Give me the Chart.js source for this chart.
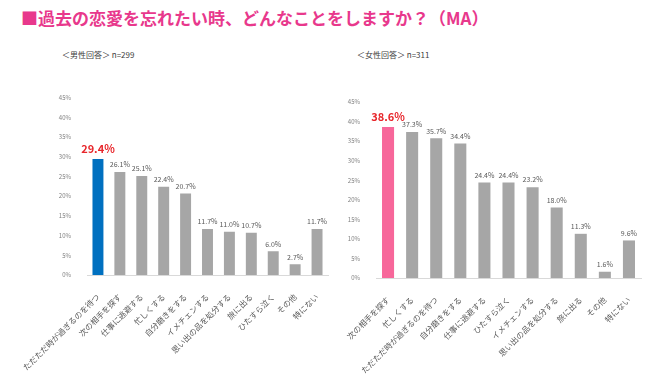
<!DOCTYPE html>
<html>
<head>
<meta charset="utf-8">
<script src="https://cdn.jsdelivr.net/npm/chart.js@4"></script>
<style>
  body { margin: 0; background: #fff; width: 660px; height: 375px; position: relative; overflow: hidden; font-family: "Noto Sans CJK JP", sans-serif; }
  #title { position: absolute; left: 21px; top: 5px; font-size: 17px; font-weight: bold; color: #e8388c; white-space: nowrap; letter-spacing: 0px; }
  .sub { position: absolute; top: 49px; font-size: 8px; color: #404040; white-space: nowrap; }
  #wrapM { position: absolute; left: 0; top: 86px; width: 335px; height: 289px; }
  #wrapF { position: absolute; left: 330px; top: 86px; width: 330px; height: 289px; }
</style>
</head>
<body>
<div id="title">■過去の恋愛を忘れたい時、どんなことをしますか？（MA）</div>
<div class="sub" style="left:62px">＜男性回答＞ n=299</div>
<div class="sub" style="left:357px">＜女性回答＞ n=311</div>
<div id="wrapM"><canvas id="maleC"></canvas></div>
<div id="wrapF"><canvas id="femaleC"></canvas></div>
<script>
const maleLabels = ['ただただ時が過ぎるのを待つ', '次の相手を探す', '仕事に逃避する', '忙しくする',
                    '自分磨きをする', 'イメチェンする', '思い出の品を処分する', '旅に出る',
                    'ひたすら泣く', 'その他', '特にない'];
const maleValues = [29.4, 26.1, 25.1, 22.4, 20.7, 11.7, 11.0, 10.7, 6.0, 2.7, 11.7];

const femaleLabels = ['次の相手を探す', '忙しくする', 'ただただ時が過ぎるのを待つ', '自分磨きをする',
                      '仕事に逃避する', 'ひたすら泣く', 'イメチェンする', '思い出の品を処分する',
                      '旅に出る', 'その他', '特にない'];
const femaleValues = [38.6, 37.3, 35.7, 34.4, 24.4, 24.4, 23.2, 18.0, 11.3, 1.6, 9.6];

const FONT = '"Noto Sans CJK JP", sans-serif';

// value labels above each bar, first one highlighted in red
const valueLabels = {
    id: 'valueLabels',
    afterDatasetsDraw(chart) {
        const ctx = chart.ctx;
        const meta = chart.getDatasetMeta(0);
        const data = chart.data.datasets[0].data;
        meta.data.forEach((bar, i) => {
            const first = i === 0;
            ctx.save();
            ctx.textAlign = 'center';
            ctx.textBaseline = 'bottom';
            ctx.fillStyle = first ? '#e8262b' : '#595959';
            ctx.font = first ? 'bold 11px ' + FONT : '7px ' + FONT;
            ctx.fillText(data[i].toFixed(1) + '%', bar.x, bar.y - (first ? 5 : 4));
            ctx.restore();
        });
    }
};

function makeChart(el, labels, values, mainColor, yWidth, xHeight, pad) {
    return new Chart(el, {
        type: 'bar',
        data: {
            labels: labels,
            datasets: [{
                data: values,
                backgroundColor: values.map((v, i) => i === 0 ? mainColor : '#a6a6a6'),
                barPercentage: 0.5,
                categoryPercentage: 1.0
            }]
        },
        options: {
            responsive: true,
            maintainAspectRatio: false,
            animation: false,
            layout: { padding: pad },
            plugins: { legend: { display: false }, tooltip: { enabled: false } },
            scales: {
                x: {
                    grid: { display: false },
                    border: { display: true, color: '#d9d9d9' },
                    ticks: {
                        minRotation: 45, maxRotation: 45, autoSkip: false, padding: 9,
                        color: '#595959', font: { family: FONT, size: 8 }
                    },
                    afterFit: s => { s.height = xHeight; }
                },
                y: {
                    min: 0, max: 45,
                    grid: { display: false },
                    border: { display: false },
                    ticks: {
                        stepSize: 5, padding: 8,
                        color: '#7f7f7f', font: { family: FONT, size: 6 },
                        callback: v => v + '%'
                    },
                    afterFit: s => { s.width = yWidth; }
                }
            }
        },
        plugins: [valueLabels]
    });
}

makeChart(document.getElementById('maleC'), maleLabels, maleValues, '#0070c0', 87,
          100, { top: 10, right: 7, left: 0, bottom: 0 });
makeChart(document.getElementById('femaleC'), femaleLabels, femaleValues, '#f7679a', 46,
          97, { top: 16, right: 19, left: 0, bottom: 0 });
</script>
</body>
</html>
